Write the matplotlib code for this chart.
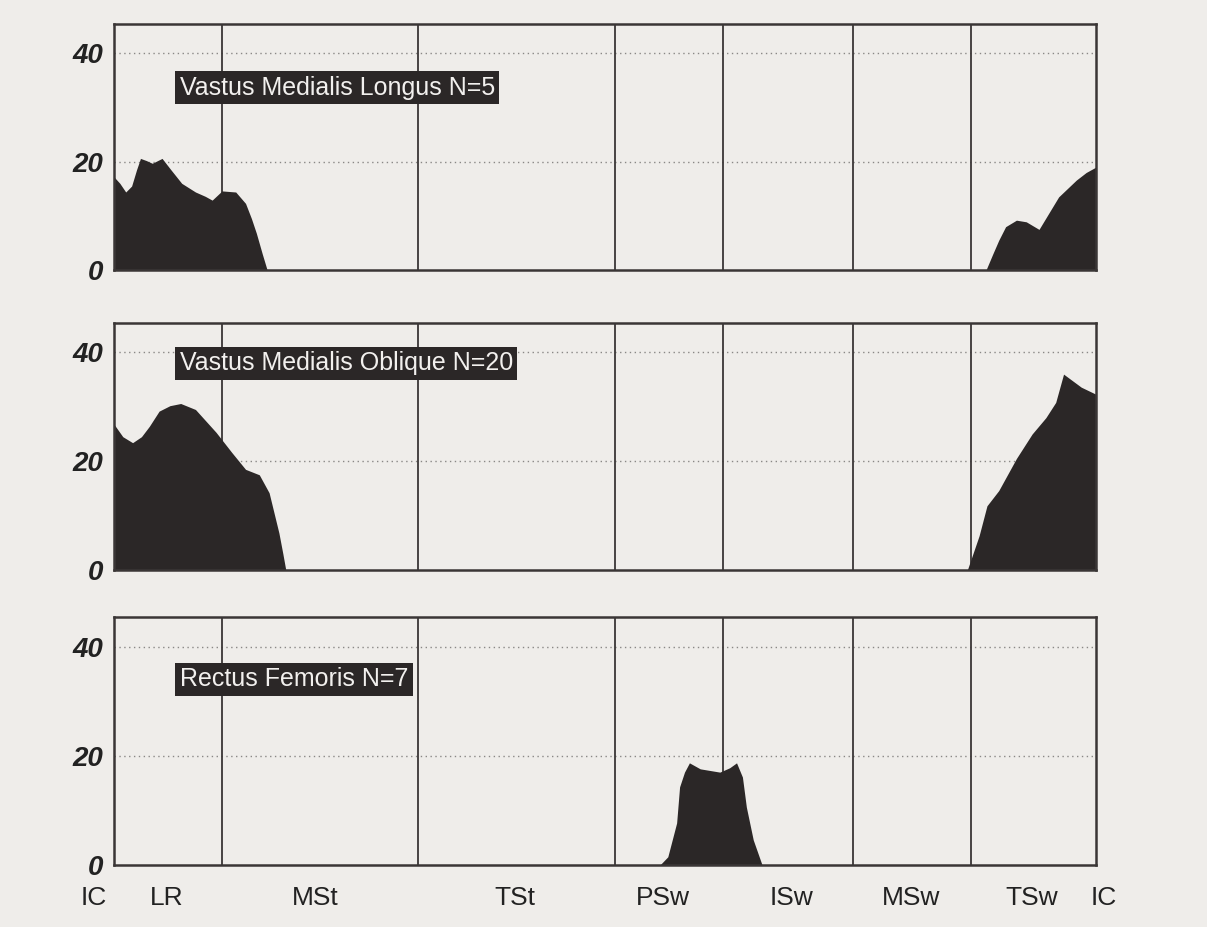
import matplotlib
matplotlib.use("Agg")
import matplotlib.pyplot as plt

plt.rcParams['font.family'] = ['Liberation Sans', 'DejaVu Sans']

# gait phase labels along the bottom
phase_labels = ["IC", "LR", "MSt", "TSt", "PSw", "ISw", "MSw", "TSw", "IC"]
phase_label_pos = [-2.1, 5.4, 20.5, 40.8, 55.9, 69.0, 81.2, 93.5, 100.8]
# phase boundaries (% gait cycle)
phase_bounds = [11, 31, 51, 62, 75.3, 87.3]

# muscle names
titles = ["Vastus Medialis Longus N=5",
          "Vastus Medialis Oblique N=20",
          "Rectus Femoris N=7"]

# EMG (% MMT), x = % gait cycle
vml_x = [0, 0.6, 1.2, 1.8, 2.3, 2.7, 3.3, 3.9, 4.9, 5.8, 6.9, 8.3, 9.3, 10.0,
         11.0, 12.4, 13.4, 14.0, 14.5, 15.1, 15.6,
         88.8, 89.5, 90.1, 90.8, 91.9, 92.9, 94.2, 94.9, 96.2, 98.0, 99.0, 100]
vml_y = [17.2, 16, 14.4, 15.5, 18.5, 20.6, 20.2, 19.7, 20.6, 18.5, 16, 14.4, 13.6, 12.9,
         14.6, 14.4, 12.3, 9.5, 6.8, 3, 0,
         0, 3, 5.5, 8, 9.2, 8.9, 7.5, 9.6, 13.5, 16.6, 18, 19]

vmo_x = [0, 0.9, 1.9, 2.8, 3.6, 4.6, 5.7, 6.8, 8.3, 10.4, 12.0, 13.4, 14.8, 15.8,
         16.3, 16.8, 17.2, 17.5,
         86.9, 88.1, 88.9, 90.1, 91.9, 93.5, 94.9, 95.9, 96.7, 98.5, 100]
vmo_y = [26.8, 24.5, 23.4, 24.5, 26.4, 29.2, 30.2, 30.6, 29.5, 25.3, 21.6, 18.5, 17.5, 14.2,
         10.5, 6.8, 3, 0,
         0, 6.3, 11.8, 14.6, 20.5, 25, 28, 30.8, 36, 33.6, 32.3]

rf_x = [0, 55.6, 56.4, 57.3, 57.6, 58.1, 58.6, 59.7, 61.7, 62.7, 63.4, 64.0, 64.4,
        65.1, 66.0, 100]
rf_y = [0, 0, 1.5, 7.7, 14.3, 17, 18.7, 17.6, 17, 17.8, 18.7, 16.1, 10.6,
        4.6, 0, 0]

series = [(vml_x, vml_y), (vmo_x, vmo_y), (rf_x, rf_y)]
label_y = [33.6, 38.0, 34.0]

paper = '#efedea'
ink = '#2b2727'

fig = plt.figure(figsize=(12.07, 9.27), dpi=100, facecolor=paper)
rects = [[0.0944, 0.7087, 0.8136, 0.2654],
         [0.0944, 0.3851, 0.8136, 0.2665],
         [0.0944, 0.0669, 0.8136, 0.2675]]

for i, (r, (xs, ys)) in enumerate(zip(rects, series)):
    ax = fig.add_axes(r)
    ax.set_facecolor(paper)
    for g in [20, 40]:
        ax.axhline(g, color='#8a8886', lw=1.0, ls=(0, (1, 2.5)), zorder=1)
    for b in phase_bounds:
        ax.axvline(b, color='#3a3636', lw=1.3, zorder=2)
    ax.fill_between(xs, ys, 0, color=ink, lw=0, zorder=3)
    ax.text(6.7, label_y[i], titles[i], color='#f2f0ee', fontsize=18,
            va='center', ha='left', zorder=5,
            bbox=dict(boxstyle='square,pad=0.18', fc=ink, ec='none'))
    for s in ax.spines.values():
        s.set_color('#3a3636')
        s.set_linewidth(1.8)
        s.set_zorder(6)
    ax.set_yticks([0, 20, 40])
    ax.set_yticklabels(["0", "20", "40"], fontsize=20, fontweight='bold',
                       fontstyle='italic', color='#222')
    ax.tick_params(axis='y', length=0, pad=8)
    ax.set_xticks([])
    ax.set_xlim(0, 100)
    ax.set_ylim(0, 45.4)
    if i == 2:
        for lab, px in zip(phase_labels, phase_label_pos):
            ax.text(px, -0.135, lab, transform=ax.get_xaxis_transform(),
                    ha='center', va='center', fontsize=19, color='#222',
                    clip_on=False)

fig.savefig("out.png", dpi=100, facecolor=paper)
